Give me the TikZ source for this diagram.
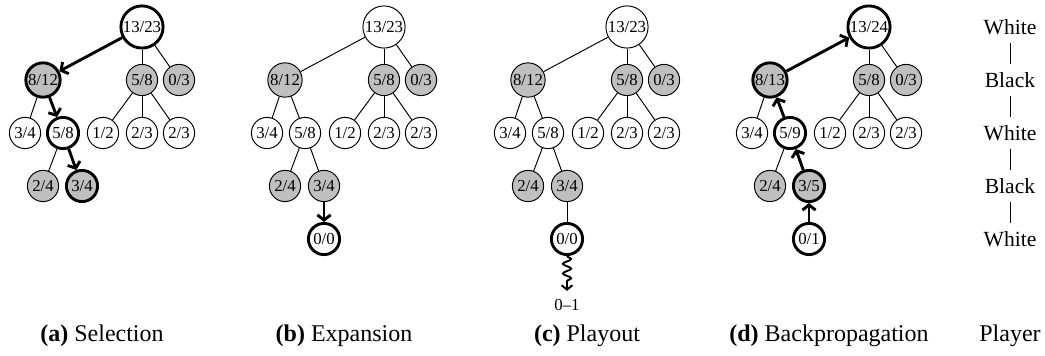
\documentclass[tikz,border=0pt]{standalone}
\usepackage{fontspec}
\setmainfont{Liberation Serif}
\usepackage{tikz}
\usetikzlibrary{arrows.meta, decorations.pathmorphing}
\tikzset{
    vnode/.style = {circle, draw, fill=white, inner sep=0.4pt, minimum size=13pt, font=\fontsize{7}{8}\selectfont},
    bnode/.style = {vnode, fill=black!25},
    hot/.style = {line width=1.2pt},
    walk/.style = {line width=1.2pt, -{Straight Barb[length=2.2pt, width=5.5pt]}},
    roll/.style = {thick, decorate, decoration={snake, amplitude=1.7pt, segment length=4pt, post length=3pt}, -{Straight Barb[length=1.8pt, width=4.5pt]}},
    lbl/.style = {font=\small},
}

\begin{document}
\begin{tikzpicture}[x=0.4167pt, y=-0.4167pt]
    \useasboundingbox (0,0) rectangle (1045,356);

    % (a) selection
    \node[vnode, hot] (a0) at (142, 27) {13/23};
    \node[bnode, hot] (a1) at (43, 80) {8/12};
    \node[bnode] (a2) at (142, 80) {5/8};
    \node[bnode] (a3) at (179, 80) {0/3};
    \node[vnode] (a4) at (25, 133) {3/4};
    \node[vnode, hot] (a5) at (63, 133) {5/8};
    \node[vnode] (a6) at (103, 133) {1/2};
    \node[vnode] (a7) at (142, 133) {2/3};
    \node[vnode] (a8) at (179, 133) {2/3};
    \node[bnode] (a9) at (43, 186) {2/4};
    \node[bnode, hot] (a10) at (82, 186) {3/4};

    \draw[walk] (a0) -- (a1);
    \draw (a0) -- (a2);
    \draw (a0) -- (a3);
    \draw (a1) -- (a4);
    \draw[walk] (a1) -- (a5);
    \draw (a2) -- (a6);
    \draw (a2) -- (a7);
    \draw (a2) -- (a8);
    \draw (a5) -- (a9);
    \draw[walk] (a5) -- (a10);
    \node (capa) at (102, 336) {\textbf{(a)} Selection};

    % (b) expansion
    \begin{scope}[shift={(242,0)}]
    \node[vnode] (b0) at (142, 27) {13/23};
    \node[bnode] (b1) at (43, 80) {8/12};
    \node[bnode] (b2) at (142, 80) {5/8};
    \node[bnode] (b3) at (179, 80) {0/3};
    \node[vnode] (b4) at (25, 133) {3/4};
    \node[vnode] (b5) at (63, 133) {5/8};
    \node[vnode] (b6) at (103, 133) {1/2};
    \node[vnode] (b7) at (142, 133) {2/3};
    \node[vnode] (b8) at (179, 133) {2/3};
    \node[bnode] (b9) at (43, 186) {2/4};
    \node[bnode] (b10) at (82, 186) {3/4};
    \node[vnode, hot] (b11) at (82, 239) {0/0};

    \draw (b0) -- (b1);
    \draw (b0) -- (b2);
    \draw (b0) -- (b3);
    \draw (b1) -- (b4);
    \draw (b1) -- (b5);
    \draw (b2) -- (b6);
    \draw (b2) -- (b7);
    \draw (b2) -- (b8);
    \draw (b5) -- (b9);
    \draw (b5) -- (b10);
    \draw[walk] (b10) -- (b11);
    \node (capb) at (102, 336) {\textbf{(b)} Expansion};
    \end{scope}

    % (c) playout
    \begin{scope}[shift={(485,0)}]
    \node[vnode] (c0) at (142, 27) {13/23};
    \node[bnode] (c1) at (43, 80) {8/12};
    \node[bnode] (c2) at (142, 80) {5/8};
    \node[bnode] (c3) at (179, 80) {0/3};
    \node[vnode] (c4) at (25, 133) {3/4};
    \node[vnode] (c5) at (63, 133) {5/8};
    \node[vnode] (c6) at (103, 133) {1/2};
    \node[vnode] (c7) at (142, 133) {2/3};
    \node[vnode] (c8) at (179, 133) {2/3};
    \node[bnode] (c9) at (43, 186) {2/4};
    \node[bnode] (c10) at (82, 186) {3/4};
    \node[vnode, hot] (c11) at (82, 239) {0/0};
    \node[font=\fontsize{7}{8}\selectfont] (c12) at (82, 305) {0--1};

    \draw (c0) -- (c1);
    \draw (c0) -- (c2);
    \draw (c0) -- (c3);
    \draw (c1) -- (c4);
    \draw (c1) -- (c5);
    \draw (c2) -- (c6);
    \draw (c2) -- (c7);
    \draw (c2) -- (c8);
    \draw (c5) -- (c9);
    \draw (c5) -- (c10);
    \draw (c10) -- (c11);
    \draw[roll] (c11) -- (c12);
    \node (capc) at (102, 336) {\textbf{(c)} Playout};
    \end{scope}

    % (d) backpropagation
    \begin{scope}[shift={(727,0)}]
    \node[vnode, hot] (d0) at (142, 27) {13/24};
    \node[bnode, hot] (d1) at (43, 80) {8/13};
    \node[bnode] (d2) at (142, 80) {5/8};
    \node[bnode] (d3) at (179, 80) {0/3};
    \node[vnode] (d4) at (25, 133) {3/4};
    \node[vnode, hot] (d5) at (63, 133) {5/9};
    \node[vnode] (d6) at (103, 133) {1/2};
    \node[vnode] (d7) at (142, 133) {2/3};
    \node[vnode] (d8) at (179, 133) {2/3};
    \node[bnode] (d9) at (43, 186) {2/4};
    \node[bnode, hot] (d10) at (82, 186) {3/5};
    \node[vnode, hot] (d11) at (82, 239) {0/1};

    \draw[walk] (d1) -- (d0);
    \draw (d0) -- (d2);
    \draw (d0) -- (d3);
    \draw (d1) -- (d4);
    \draw[walk] (d5) -- (d1);
    \draw (d2) -- (d6);
    \draw (d2) -- (d7);
    \draw (d2) -- (d8);
    \draw (d5) -- (d9);
    \draw[walk] (d10) -- (d5);
    \draw[walk] (d11) -- (d10);
    \node (capd) at (102, 336) {\textbf{(d)} Backpropagation};
    \end{scope}

    % player to move
    \node[lbl] (p0) at (1010, 27) {White};
    \node[lbl] (p1) at (1010, 80) {Black};
    \node[lbl] (p2) at (1010, 133) {White};
    \node[lbl] (p3) at (1010, 186) {Black};
    \node[lbl] (p4) at (1010, 239) {White};
    \draw (p0) -- (p1);
    \draw (p1) -- (p2);
    \draw (p2) -- (p3);
    \draw (p3) -- (p4);
    \node (pcap) at (1010, 336) {Player};
\end{tikzpicture}
\end{document}
